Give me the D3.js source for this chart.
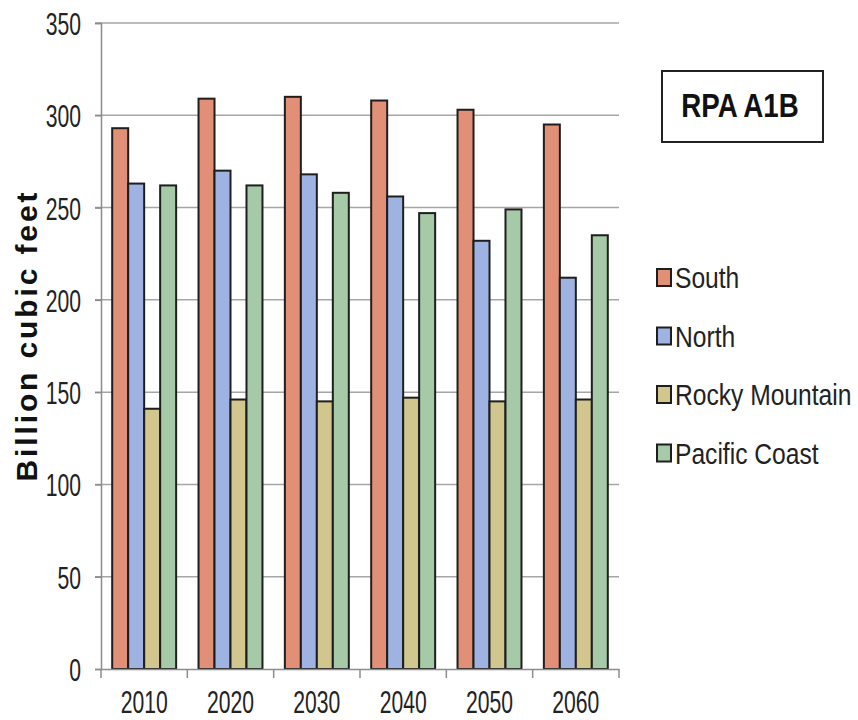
<!DOCTYPE html>
<html>
<head>
<meta charset="utf-8">
<script src="https://cdn.jsdelivr.net/npm/d3@7"></script>
<style>
    body { margin: 0; background: #fff; }
    svg { display: block; font-family: "Liberation Sans", Arial, sans-serif; }
</style>
</head>
<body>
<svg id="chart" width="858" height="720"></svg>
<script>
var years = ["2010", "2020", "2030", "2040", "2050", "2060"];
var regions = ["South", "North", "Rocky Mountain", "Pacific Coast"];
var south = [293, 309, 310, 308, 303, 295];
var north = [263, 270, 268, 256, 232, 212];
var rocky = [141, 146, 145, 147, 145, 146];
var pacific = [262, 262, 258, 247, 249, 235];
var yTicks = [0, 50, 100, 150, 200, 250, 300, 350];
var title = "RPA A1B";
var yLabel = "Billion cubic feet";

var colors = ["#e28f78", "#9fb3e2", "#d1c68e", "#a6c9a7"];
var seriesValues = [south, north, rocky, pacific];

var svg = d3.select("#chart");

var plotLeft = 101, plotRight = 619, plotTop = 23, plotBottom = 669;

var x0 = d3.scaleBand().domain(years).range([plotLeft, plotRight]);
var x1 = d3.scaleBand().domain(regions).range([0, x0.bandwidth()]).paddingOuter(0.7);
var y = d3.scaleLinear().domain([0, 350]).range([plotBottom, plotTop]);

// squeeze text horizontally like the original (narrow font)
function squeeze(sel, k) {
    sel.each(function () {
        var w = this.getComputedTextLength();
        d3.select(this).attr("textLength", w * k).attr("lengthAdjust", "spacingAndGlyphs");
    });
}

// gridlines
svg.append("g")
    .attr("id", "grid")
    .selectAll("line")
    .data(yTicks.slice(1))
    .enter()
    .append("line")
    .attr("x1", plotLeft - 6)
    .attr("x2", plotRight)
    .attr("y1", function (d) { return y(d); })
    .attr("y2", function (d) { return y(d); })
    .attr("stroke", "#a6a6a6")
    .attr("stroke-width", 1.5);

// bars
var rows = [];
for (var i = 0; i < years.length; i++) {
    for (var j = 0; j < regions.length; j++) {
        rows.push({ year: years[i], region: regions[j], value: seriesValues[j][i], k: j });
    }
}

svg.append("g")
    .attr("id", "bars")
    .selectAll("rect")
    .data(rows)
    .enter()
    .append("rect")
    .attr("x", function (d) { return x0(d.year) + x1(d.region); })
    .attr("y", function (d) { return y(d.value); })
    .attr("width", x1.bandwidth())
    .attr("height", function (d) { return y(0) - y(d.value); })
    .attr("fill", function (d) { return colors[d.k]; })
    .attr("stroke", "#1e1e1e")
    .attr("stroke-width", 2);

// y axis
var yAxis = svg.append("g")
    .attr("transform", "translate(" + plotLeft + ",0)")
    .call(d3.axisLeft(y).tickValues(yTicks).tickSize(6).tickPadding(14));
yAxis.select(".domain").attr("stroke", "#8c8c8c").attr("stroke-width", 1.5);
yAxis.selectAll(".tick line").attr("stroke", "#8c8c8c").attr("stroke-width", 1.5);
yAxis.selectAll(".tick text")
    .attr("font-size", 32)
    .attr("font-family", "Liberation Sans, Arial, sans-serif")
    .attr("fill", "#222")
    .attr("dy", "0.36em")
    .call(squeeze, 0.66);

// x axis
var xAxis = svg.append("g")
    .attr("transform", "translate(0," + plotBottom + ")")
    .call(d3.axisBottom(x0).tickSize(0).tickPadding(23));
xAxis.select(".domain").attr("stroke", "#8c8c8c").attr("stroke-width", 1.5);
xAxis.selectAll(".tick text")
    .attr("font-size", 32)
    .attr("font-family", "Liberation Sans, Arial, sans-serif")
    .attr("fill", "#222")
    .attr("dy", "0.66em")
    .call(squeeze, 0.66);

// x tick marks between the groups
var bounds = years.map(function (d) { return x0(d); }).concat([plotRight]);
xAxis.selectAll(".sep")
    .data(bounds)
    .enter()
    .append("line")
    .attr("class", "sep")
    .attr("x1", function (d) { return d; })
    .attr("x2", function (d) { return d; })
    .attr("y1", 0)
    .attr("y2", 9)
    .attr("stroke", "#8c8c8c")
    .attr("stroke-width", 1.5);

// y title
svg.append("text")
    .attr("transform", "translate(37," + 337 + ") rotate(-90)")
    .attr("text-anchor", "middle")
    .attr("font-size", 30)
    .attr("font-weight", "bold")
    .attr("fill", "#111")
    .attr("textLength", 289)
    .attr("lengthAdjust", "spacing")
    .text(yLabel);

// title box
svg.append("rect")
    .attr("x", 662)
    .attr("y", 71)
    .attr("width", 161)
    .attr("height", 71)
    .attr("fill", "#fff")
    .attr("stroke", "#222")
    .attr("stroke-width", 2);

svg.append("text")
    .attr("x", 740)
    .attr("y", 117)
    .attr("text-anchor", "middle")
    .attr("font-size", 33)
    .attr("font-weight", "bold")
    .attr("fill", "#111")
    .text(title)
    .call(squeeze, 0.84);

// legend
var legend = svg.append("g")
    .attr("id", "legend")
    .selectAll("g")
    .data(regions)
    .enter()
    .append("g")
    .attr("transform", function (d, i) { return "translate(657," + (288 + i * 58.5) + ")"; });

legend.append("rect")
    .attr("x", 0)
    .attr("y", -19)
    .attr("width", 14)
    .attr("height", 17)
    .attr("fill", function (d, i) { return colors[i]; })
    .attr("stroke", "#1e1e1e")
    .attr("stroke-width", 2);

legend.append("text")
    .attr("x", 18)
    .attr("y", 0)
    .attr("font-size", 30)
    .attr("fill", "#222")
    .text(function (d) { return d; })
    .call(squeeze, 0.82);
</script>
</body>
</html>
